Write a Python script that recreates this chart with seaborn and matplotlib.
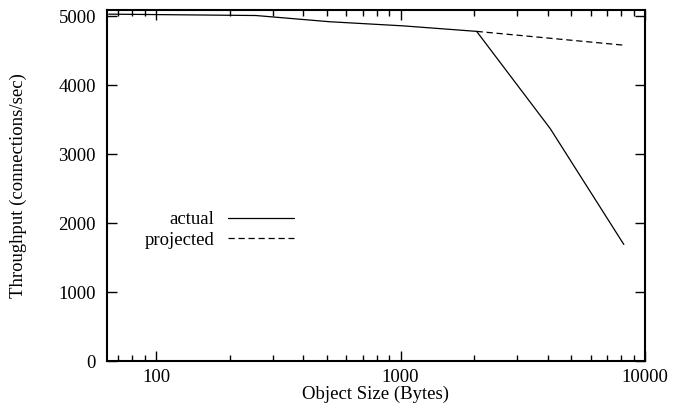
import pandas as pd
import matplotlib
matplotlib.use("Agg")
import matplotlib.pyplot as plt
import matplotlib.ticker as mticker
import seaborn as sns

# valores
tamanho_actual = [64, 128, 256, 512, 1024, 2048, 4096, 8192]
vazao_actual = [5030, 5020, 5010, 4920, 4860, 4780, 3370, 1690]
tamanho_projected = [2048, 4096, 8192]
vazao_projected = [4780, 4680, 4580]

df = pd.concat([
    pd.DataFrame({"size": tamanho_actual, "tput": vazao_actual, "serie": "actual"}),
    pd.DataFrame({"size": tamanho_projected, "tput": vazao_projected, "serie": "projected"}),
], ignore_index=True)

sns.set_style("ticks", {"axes.edgecolor": "black", "text.color": "black",
                        "xtick.color": "black", "ytick.color": "black",
                        "axes.labelcolor": "black"})
plt.rcParams["font.family"] = ["Liberation Serif", "DejaVu Serif"]
fs = 13.5

fig = plt.figure(figsize=(6.75, 4.15), dpi=100)
ax = fig.add_axes([107 / 675, 1 - 361 / 415, (645 - 107) / 675, (361 - 10) / 415])

sns.lineplot(data=df, x="size", y="tput", style="serie", color="black",
             dashes={"actual": "", "projected": (5, 3)}, linewidth=0.9, ax=ax)

ax.set_xscale("log")
ax.set_xlim(63, 10000)
ax.set_ylim(0, 5090)
ax.set_yticks([0, 1000, 2000, 3000, 4000, 5000])
ax.xaxis.set_major_formatter(mticker.FuncFormatter(lambda v, p: f"{int(v)}"))
ax.xaxis.set_minor_formatter(mticker.NullFormatter())

ax.tick_params(which="major", direction="in", length=7.5, width=1, top=True, right=True,
               labelsize=fs)
ax.tick_params(axis="y", pad=8)
ax.tick_params(axis="x", pad=6)
ax.tick_params(which="minor", direction="in", length=4, width=1, top=True, right=True)
for s in ax.spines.values():
    s.set_linewidth(1.5)
    s.set_visible(True)

ax.set_xlabel("Object Size (Bytes)", fontsize=fs)
ax.set_ylabel("Throughput (connections/sec)", fontsize=fs)
ax.xaxis.set_label_coords(0.5, (361 - 386) / 351)
ax.yaxis.set_label_coords((27 - 107) / 538, 0.5)

leg = ax.legend(markerfirst=False, frameon=False, loc="upper right",
                bbox_to_anchor=(294 / 675, 1 - 211 / 415), bbox_transform=fig.transFigure,
                handlelength=3.5, handletextpad=0.75, labelspacing=0.2, borderaxespad=0,
                borderpad=0, fontsize=fs, title=None)
leg._legend_box.align = "right"
vp = leg._legend_box.get_children()[1]
for c in vp.get_children():
    c.align = "right"

fig.savefig("out.png", dpi=100)
